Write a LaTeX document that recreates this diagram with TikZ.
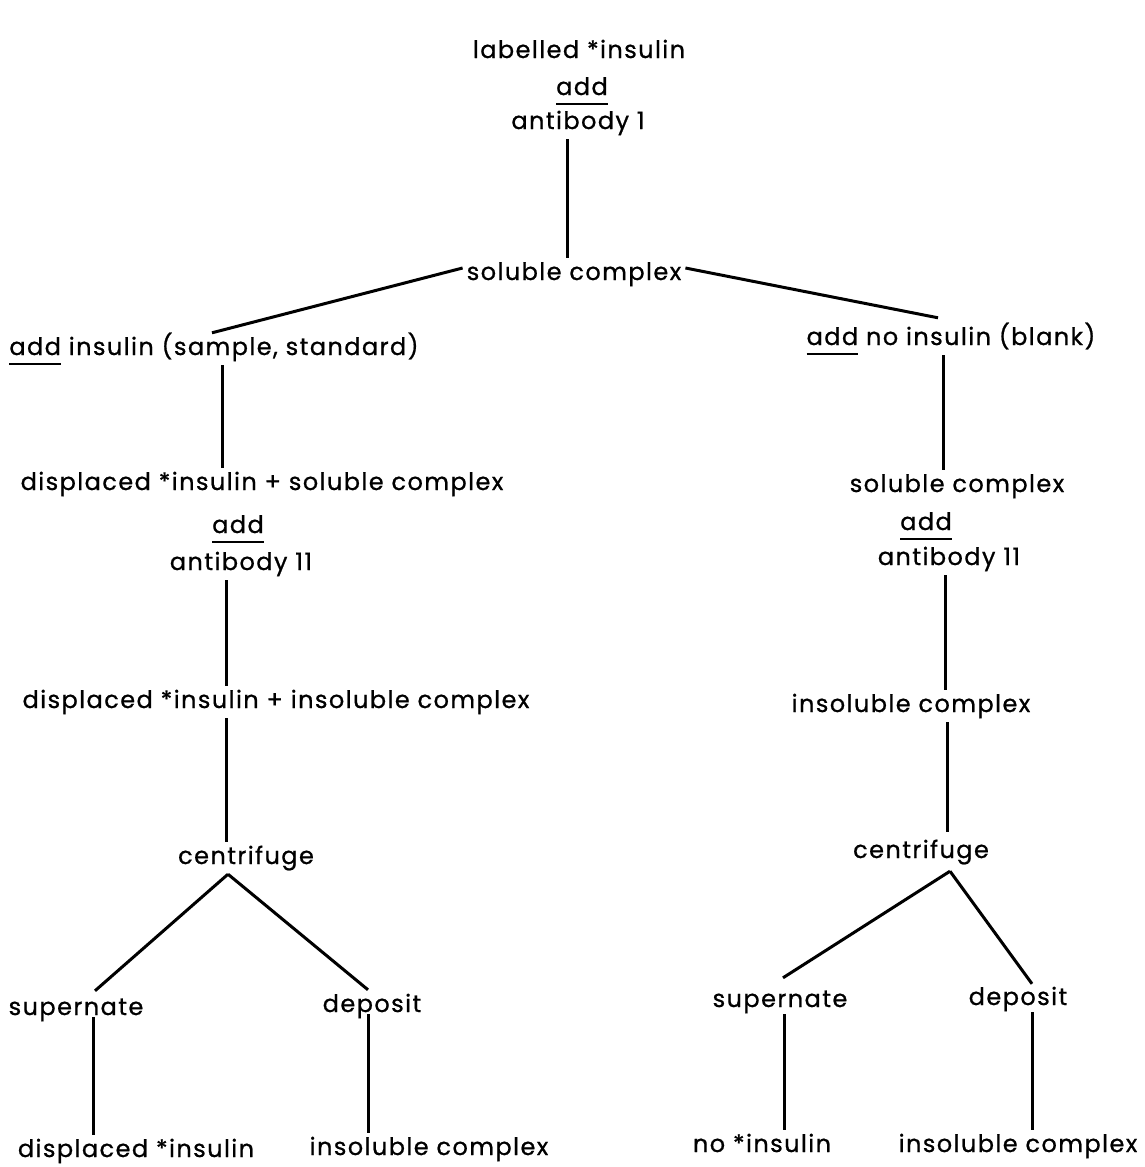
\documentclass[tikz,border=0pt]{standalone}
\usepackage{fontspec}
\setmainfont{Poppins}[LetterSpace=6, FakeBold=0.8]
\usetikzlibrary{positioning}

% underlined word, as typed on the original sheet
\newcommand{\ulword}[1]{\sbox0{#1}\rlap{\rule[-10pt]{\wd0}{2pt}}\usebox0}

\begin{document}
\begin{tikzpicture}[
    x=1pt, y=-1pt,
    % Define node styles
    step label/.style={
        font=\fontsize{24}{28}\selectfont,
        anchor=base,
        inner sep=4pt,
        text height=18pt,
        text depth=6pt
    },
    link/.style={
        draw,
        line width=3pt
    }
]
    \useasboundingbox[fill=white] (0,0) rectangle (1145,1167);

    % Top of the scheme
    \node[step label] (lab) at (579,58) {labelled *insulin};
    \node[step label] (add1) at (582,95) {\ulword{add}};
    \node[step label] (ab1) at (578,129) {antibody 1};
    \node[step label] (sol) at (574,280) {soluble complex};

    % Left branch: sample or standard
    \node[step label] (insL) at (214,355) {\ulword{add} insulin (sample, standard)};
    \node[step label] (dispsol) at (262,490) {displaced *insulin + soluble complex};
    \node[step label] (addL) at (238,533) {\ulword{add}};
    \node[step label] (abL) at (241,570) {antibody 11};
    \node[step label] (dispins) at (276,708) {displaced *insulin + insoluble complex};
    \node[step label] (cenL) at (246,864) {centrifuge};
    \node[step label] (supL) at (76,1015) {supernate};
    \node[step label] (depL) at (372,1012) {deposit};
    \node[step label] (outL1) at (136,1157) {displaced *insulin};
    \node[step label] (outL2) at (429,1155) {insoluble complex};

    % Right branch: blank
    \node[step label] (insR) at (951,345) {\ulword{add} no insulin (blank)};
    \node[step label] (solR) at (957,492) {soluble complex};
    \node[step label] (addR) at (926,530) {\ulword{add}};
    \node[step label] (abR) at (949,565) {antibody 11};
    \node[step label] (insolR) at (911,712) {insoluble complex};
    \node[step label] (cenR) at (921,858) {centrifuge};
    \node[step label] (supR) at (780,1007) {supernate};
    \node[step label] (depR) at (1018,1005) {deposit};
    \node[step label] (outR1) at (762,1152) {no *insulin};
    \node[step label] (outR2) at (1018,1152) {insoluble complex};

    % Connectors of the top part
    \draw[link] ([xshift=-11pt]ab1.south) -- ([xshift=-7pt]sol.north);
    \draw[link] ([yshift=6pt]sol.west) -- ([xshift=-2pt]insL.north);
    \draw[link] ([yshift=6pt]sol.east) -- ([xshift=-13pt,yshift=5pt]insR.north);

    % Connectors of the left branch
    \draw[link] ([xshift=8pt]insL.south) -- ([xshift=-40pt]dispsol.north);
    \draw[link] ([xshift=-15pt]abL.south) -- ([xshift=-50pt]dispins.north);
    \draw[link] ([xshift=-50pt]dispins.south) -- ([xshift=-20pt]cenL.north);
    \draw[link] ([xshift=-18pt]cenL.south) -- ([xshift=19pt,yshift=2pt]supL.north);
    \draw[link] ([xshift=-18pt]cenL.south) -- ([xshift=-4pt]depL.north);
    \draw[link] ([xshift=17pt,yshift=8pt]supL.south) -- ([xshift=-43pt]outL1.north);
    \draw[link] ([xshift=-4pt,yshift=8pt]depL.south) -- ([xshift=-61pt]outL2.north);

    % Connectors of the right branch
    \draw[link] ([xshift=-8pt]insR.south) -- ([xshift=-14pt]solR.north);
    \draw[link] ([xshift=-4pt]abR.south) -- ([xshift=34pt]insolR.north);
    \draw[link] ([xshift=36pt]insolR.south) -- ([xshift=26pt,yshift=4pt]cenR.north);
    \draw[link] ([xshift=29pt,yshift=-3pt]cenR.south) -- ([xshift=3pt,yshift=7pt]supR.north);
    \draw[link] ([xshift=29pt,yshift=-3pt]cenR.south) -- ([xshift=14pt,yshift=-1pt]depR.north);
    \draw[link] ([xshift=4pt,yshift=3pt]supR.south) -- ([xshift=22pt]outR1.north);
    \draw[link] ([xshift=14pt,yshift=3pt]depR.south) -- ([xshift=14pt]outR2.north);
\end{tikzpicture}
\end{document}
